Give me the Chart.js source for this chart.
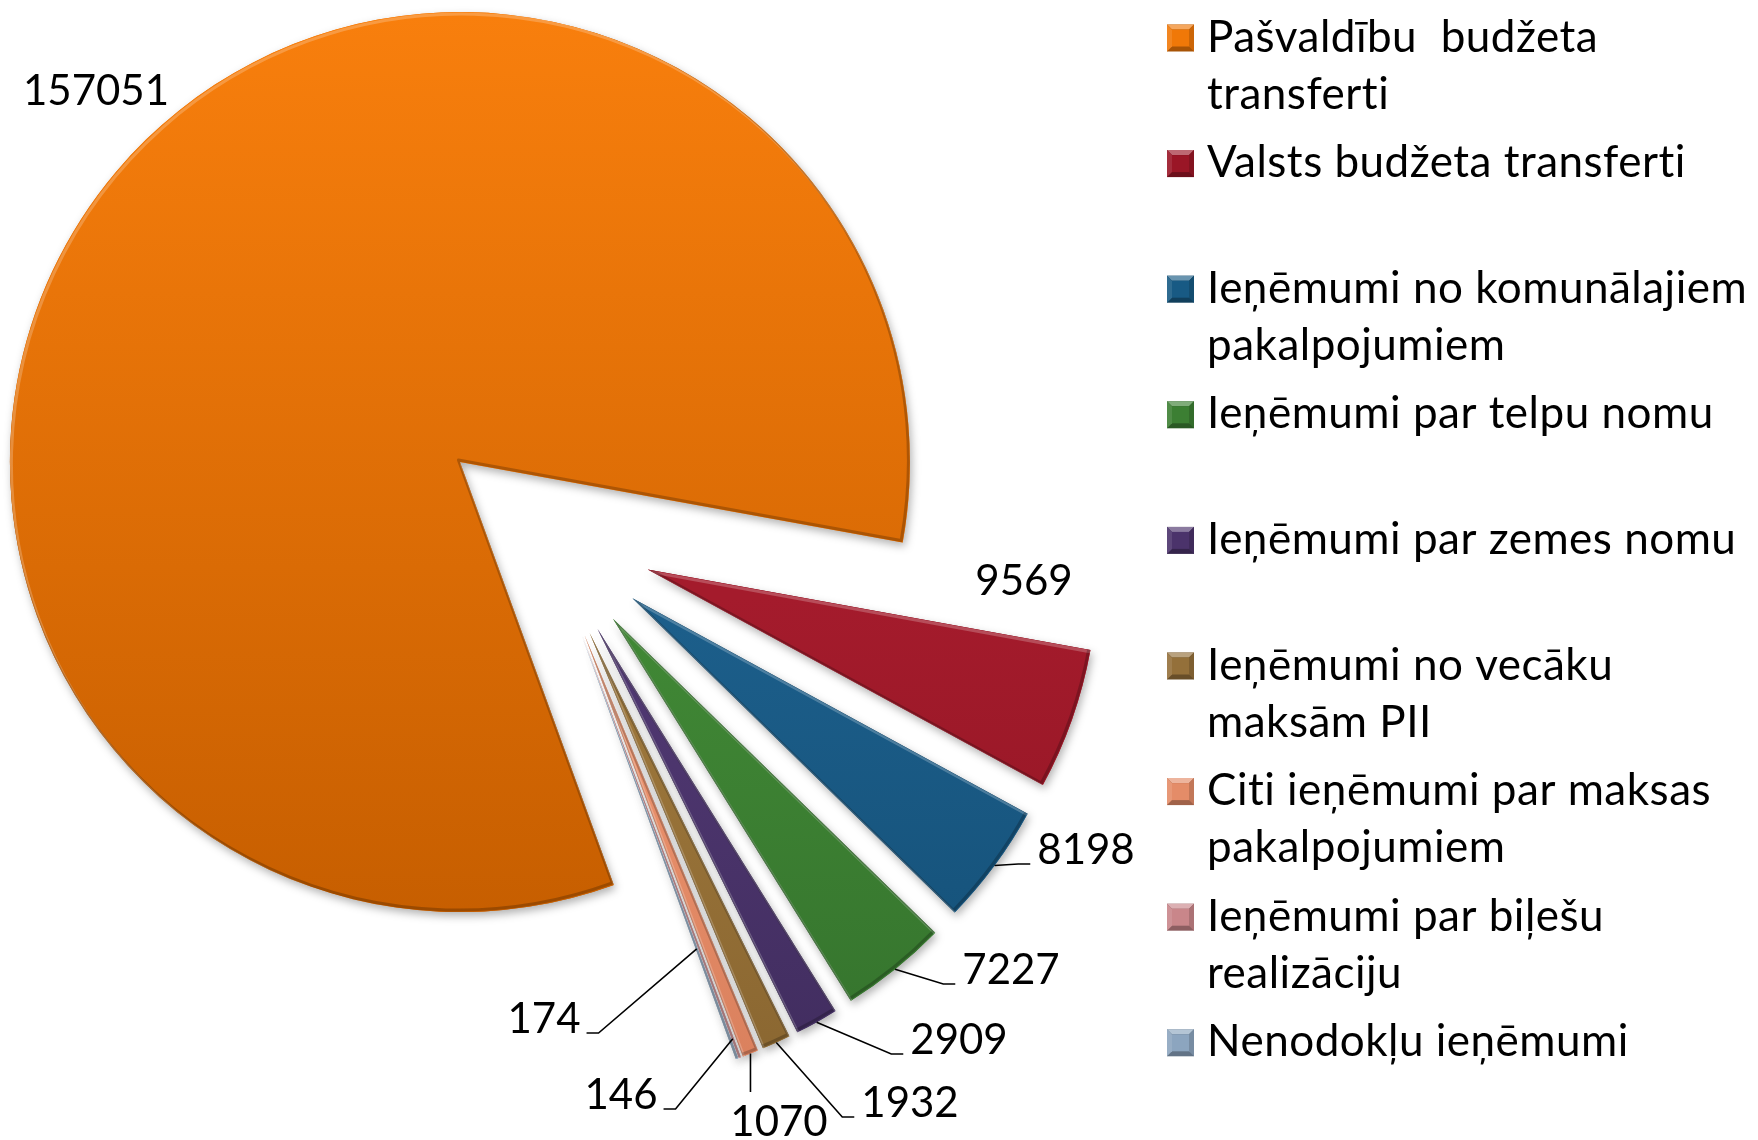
<!DOCTYPE html>
<html>
<head>
<meta charset="utf-8">
<script src="https://cdn.jsdelivr.net/npm/chart.js@4.4.1/dist/chart.umd.min.js"></script>
<style>
html,body{margin:0;padding:0;background:#fff;}
#c{display:block;}
</style>
</head>
<body>
<canvas id="c" width="1758" height="1140"></canvas>
<script>
// ---------------- data ----------------
const categories = [
  'Pašvaldību  budžeta transferti',
  'Valsts budžeta transferti',
  'Ieņēmumi no komunālajiem pakalpojumiem',
  'Ieņēmumi par telpu nomu',
  'Ieņēmumi par zemes nomu',
  'Ieņēmumi no vecāku maksām PII',
  'Citi ieņēmumi par maksas pakalpojumiem',
  'Ieņēmumi par biļešu realizāciju',
  'Nenodokļu ieņēmumi'
];
const legendLines = [
  ['Pašvaldību  budžeta', 'transferti'],
  ['Valsts budžeta transferti'],
  ['Ieņēmumi no komunālajiem', 'pakalpojumiem'],
  ['Ieņēmumi par telpu nomu'],
  ['Ieņēmumi par zemes nomu'],
  ['Ieņēmumi no vecāku', 'maksām PII'],
  ['Citi ieņēmumi par maksas', 'pakalpojumiem'],
  ['Ieņēmumi par biļešu', 'realizāciju'],
  ['Nenodokļu ieņēmumi']
];
const values = [157051, 9569, 8198, 7227, 2909, 1932, 1070, 146, 174];

// ---------------- style ----------------
const colorsLight = ['#FD820E','#A41B2C','#1C5E8A','#408735','#503872','#9E783C','#EE9670','#D08E92','#94AEC8'];
const colorsDark  = ['#C65E00','#8C1421','#124C72','#326E2B','#3D2A5A','#85622E','#D47A58','#B87478','#7A94AE'];
const colorsBase  = ['#F07808','#9A1626','#185A84','#3C7F33','#4B336B','#94703A','#E48C68','#C9868A','#8CA5BF'];

const EXPLODE = 110;
const RADIUS = 450;
const FONT = 'Lato, "Open Sans", sans-serif';

// label placement (text centre x, baseline y), leader side and radial anchor
const labelLayout = [
  {x: 96,   y: 105,  side: 'none'},
  {x: 1024, y: 595,  side: 'none'},
  {x: 1086, y: 864,  side: 'right', r: 1},
  {x: 1011, y: 984,  side: 'right', r: 1},
  {x: 959,  y: 1054, side: 'right', r: 1},
  {x: 910,  y: 1117, side: 'right', r: 1},
  {x: 779,  y: 1136, side: 'below', r: 1},
  {x: 621,  y: 1109, side: 'left',  r: 0.955},
  {x: 544,  y: 1033, side: 'left',  r: 0.74}
];

function bg(context) {
  const i = context.dataIndex;
  const chart = context.chart;
  const y0 = i === 0 ? 0 : 560;
  const y1 = i === 0 ? 1000 : 1080;
  const g = chart.ctx.createLinearGradient(0, y0, 0, y1);
  g.addColorStop(0, colorsLight[i]);
  g.addColorStop(1, colorsDark[i]);
  return g;
}

function arcPath(ctx, arc) {
  ctx.beginPath();
  ctx.moveTo(arc.x, arc.y);
  ctx.arc(arc.x, arc.y, arc.outerRadius, arc.startAngle, arc.endAngle);
  ctx.closePath();
}

const explodePlugin = {
  id: 'explode',
  beforeDatasetDraw(chart, args) {
    const ctx = chart.ctx;
    const arcs = args.meta.data;
    // shadow pass
    arcs.forEach(arc => {
      const mid = (arc.startAngle + arc.endAngle) / 2;
      ctx.save();
      ctx.translate(Math.cos(mid) * EXPLODE, Math.sin(mid) * EXPLODE);
      ctx.shadowColor = 'rgba(0,0,0,0.30)';
      ctx.shadowBlur = 9;
      ctx.shadowOffsetX = 2;
      ctx.shadowOffsetY = 4;
      arc.draw(ctx);
      ctx.restore();
    });
    // main pass + soft bevel
    arcs.forEach(arc => {
      const mid = (arc.startAngle + arc.endAngle) / 2;
      ctx.save();
      ctx.translate(Math.cos(mid) * EXPLODE, Math.sin(mid) * EXPLODE);
      arc.draw(ctx);
      arcPath(ctx, arc);
      ctx.clip();
      ctx.lineJoin = 'round';
      ctx.lineWidth = 3;
      ctx.save();
      ctx.translate(1.5, 2);
      arcPath(ctx, arc);
      ctx.strokeStyle = 'rgba(255,255,255,0.22)';
      ctx.stroke();
      ctx.restore();
      ctx.save();
      ctx.translate(-1.5, -2);
      arcPath(ctx, arc);
      ctx.strokeStyle = 'rgba(0,0,0,0.22)';
      ctx.stroke();
      ctx.restore();
      ctx.restore();
    });
    return false;
  }
};

const labelPlugin = {
  id: 'sliceLabels',
  afterDatasetsDraw(chart) {
    const ctx = chart.ctx;
    const arcs = chart.getDatasetMeta(0).data;
    ctx.save();
    ctx.font = '42px ' + FONT;
    ctx.fillStyle = '#000';
    ctx.textAlign = 'center';
    ctx.textBaseline = 'alphabetic';
    ctx.strokeStyle = '#000';
    ctx.lineWidth = 1.6;
    arcs.forEach((arc, i) => {
      const L = labelLayout[i];
      const txt = String(values[i]);
      ctx.fillText(txt, L.x, L.y);
      if (L.side === 'none') return;
      const mid = (arc.startAngle + arc.endAngle) / 2;
      const rr = EXPLODE + L.r * arc.outerRadius;
      const tx = arc.x + Math.cos(mid) * rr;
      const ty = arc.y + Math.sin(mid) * rr;
      const w = ctx.measureText(txt).width;
      ctx.beginPath();
      ctx.moveTo(tx, ty);
      if (L.side === 'right') {
        const ex = L.x - w / 2 - 7;
        ctx.lineTo(ex - 12, L.y);
        ctx.lineTo(ex, L.y);
      } else if (L.side === 'left') {
        const ex = L.x + w / 2 + 6;
        ctx.lineTo(ex + 12, L.y);
        ctx.lineTo(ex, L.y);
      } else {
        ctx.lineTo(tx, L.y - 44);
      }
      ctx.stroke();
    });
    ctx.restore();
  }
};

function shade(hex, f) {
  const n = parseInt(hex.slice(1), 16);
  let r = (n >> 16) & 255, g = (n >> 8) & 255, b = n & 255;
  const m = v => Math.max(0, Math.min(255, Math.round(f >= 1 ? v + (255 - v) * (f - 1) : v * f)));
  return 'rgb(' + m(r) + ',' + m(g) + ',' + m(b) + ')';
}

const legendPlugin = {
  id: 'sideLegend',
  afterDraw(chart) {
    const ctx = chart.ctx;
    ctx.save();
    ctx.font = '44px ' + FONT;
    if ('letterSpacing' in ctx) ctx.letterSpacing = '0.5px';
    ctx.fillStyle = '#000';
    ctx.textAlign = 'left';
    ctx.textBaseline = 'alphabetic';
    const sx = 1167, s = 27, bw = 5;
    legendLines.forEach((lines, i) => {
      const base = 51.5 + i * 125.6;
      const sy = base - s;
      const c = colorsBase[i];
      // bevelled square
      ctx.fillStyle = shade(c, 0.7);
      ctx.fillRect(sx, sy, s, s);
      ctx.beginPath(); ctx.moveTo(sx, sy); ctx.lineTo(sx + s, sy); ctx.lineTo(sx + s - bw, sy + bw); ctx.lineTo(sx + bw, sy + bw); ctx.closePath();
      ctx.fillStyle = shade(c, 1.35); ctx.fill();
      ctx.beginPath(); ctx.moveTo(sx, sy); ctx.lineTo(sx + bw, sy + bw); ctx.lineTo(sx + bw, sy + s - bw); ctx.lineTo(sx, sy + s); ctx.closePath();
      ctx.fillStyle = shade(c, 1.1); ctx.fill();
      ctx.beginPath(); ctx.moveTo(sx + s, sy); ctx.lineTo(sx + s, sy + s); ctx.lineTo(sx + s - bw, sy + s - bw); ctx.lineTo(sx + s - bw, sy + bw); ctx.closePath();
      ctx.fillStyle = shade(c, 0.85); ctx.fill();
      ctx.fillStyle = c;
      ctx.fillRect(sx + bw, sy + bw, s - 2 * bw, s - 2 * bw);
      ctx.fillStyle = '#000';
      lines.forEach((t, j) => ctx.fillText(t, 1207, base + j * 57.2));
    });
    ctx.restore();
  }
};

function build() {
  new Chart(document.getElementById('c'), {
    type: 'pie',
    data: {
      labels: categories,
      datasets: [{
        data: values,
        backgroundColor: bg,
        borderWidth: 0,
        offset: 0,
        hoverOffset: 0
      }]
    },
    options: {
      responsive: false,
      devicePixelRatio: 1,
      animation: false,
      rotation: 160,
      radius: RADIUS,
      layout: {padding: {left: 0, top: 0, right: 670, bottom: 74}},
      plugins: {legend: {display: false}, tooltip: {enabled: false}},
      events: []
    },
    plugins: [explodePlugin, labelPlugin, legendPlugin]
  });
}

if (document.fonts && document.fonts.load) {
  Promise.all([document.fonts.load('42px Lato'), document.fonts.load('44px Lato')]).then(build, build);
} else {
  build();
}
</script>
</body>
</html>
